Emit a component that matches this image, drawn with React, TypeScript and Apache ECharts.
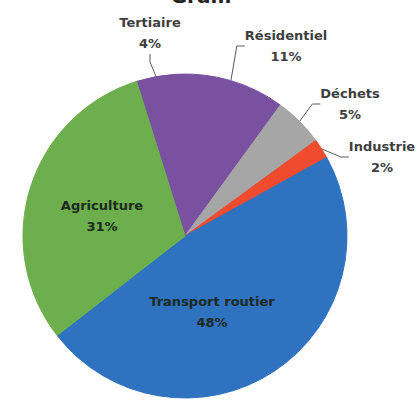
import React, { useEffect, useRef } from "react";
import * as echarts from "echarts";

// Data (percent of total)
const sectors = ["Tertiaire", "Résidentiel", "Déchets", "Industrie", "Transport routier", "Agriculture"];
const shares = [4, 11, 5, 2, 48, 31];
const sliceColors = ["#7a51a1", "#7a51a1", "#a6a6a6", "#f04b2f", "#2f72bf", "#6caf4c"];
const insideSectors = ["Transport routier", "Agriculture"];
const titleText = "Gram";

// Label anchor positions (layout, not data)
const labelAnchors: Record<string, [number, number]> = {
  "Tertiaire": [150, 33],
  "Résidentiel": [286, 46],
  "Déchets": [350, 104],
  "Industrie": [382, 157],
  "Transport routier": [212, 312],
  "Agriculture": [102, 216],
};

export default function App() {
  const ref = useRef<HTMLDivElement>(null);
  useEffect(() => {
    if (!ref.current) return;
    const chart = echarts.init(ref.current, undefined, { renderer: "svg" });
    const font = "DejaVu Sans";
    const data = sectors.map((name, i) => {
      const inside = insideSectors.includes(name);
      return {
        name,
        value: shares[i],
        itemStyle: { color: sliceColors[i], borderColor: sliceColors[i], borderWidth: 1 },
        label: {
          position: inside ? "inside" : "outside",
          color: inside ? "#1d2a22" : "#3d3d3d",
          fontSize: 13,
        },
        labelLine: { show: !inside },
      };
    });
    chart.setOption({
      animation: false,
      backgroundColor: "#ffffff",
      graphic: [
        {
          type: "text",
          x: 201,
          y: 6,
          style: {
            text: titleText,
            fontFamily: font,
            fontWeight: "bold",
            fontSize: 20,
            fill: "#222",
            textAlign: "center",
            textVerticalAlign: "bottom",
          },
        },
      ],
      series: [
        {
          type: "pie",
          center: [185, 236],
          radius: 162,
          startAngle: 107.4,
          clockwise: true,
          avoidLabelOverlap: false,
          label: {
            show: true,
            formatter: "{b}\n{c}%",
            fontFamily: font,
            fontWeight: "bold",
            lineHeight: 21,
            align: "center",
          },
          labelLine: {
            length: 6,
            length2: 8,
            lineStyle: { color: "#5a5a5a", width: 1 },
          },
          labelLayout: (params: any) => {
            const name = sectors[params.dataIndex];
            const p = labelAnchors[name];
            return { x: p[0], y: p[1], align: "center", verticalAlign: "middle" };
          },
          data,
        },
      ],
    });
    return () => chart.dispose();
  }, []);
  return (
    <div
      ref={ref}
      style={{ position: "fixed", left: 0, top: 0, width: 419, height: 400, background: "#fff" }}
    />
  );
}
